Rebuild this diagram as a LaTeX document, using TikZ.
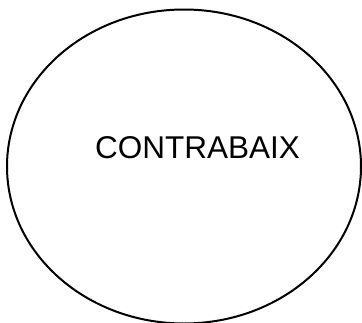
\documentclass[tikz,border=0pt]{standalone}
\usepackage{fontspec}
\setmainfont{Liberation Sans}
\begin{document}
\begin{tikzpicture}[x=1pt, y=-1pt,
    outline/.style={line width=2pt, black},
  ]
% --- Frame -----------------------------------------------------------------------
\useasboundingbox (0,0) rectangle (362,322);

% --- The ellipse and its word ----------------------------------------------------
\draw[outline] (184,166.5) ellipse [x radius=177, y radius=157];
\node[font=\fontsize{31.5}{37}\selectfont, inner sep=0pt] (word) at (197.5,147.5) {CONTRABAIX};
\end{tikzpicture}
\end{document}
